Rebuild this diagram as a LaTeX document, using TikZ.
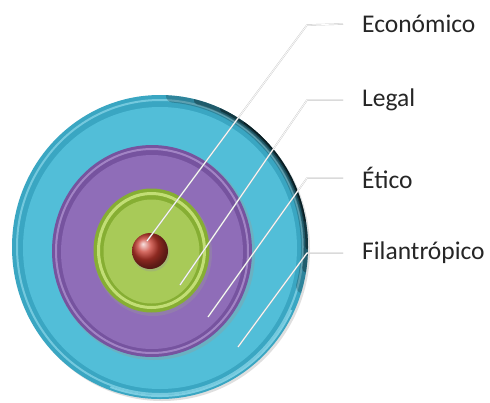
\documentclass[tikz,border=0pt]{standalone}
\usepackage{fontspec}
\setmainfont{Carlito}
\usetikzlibrary{shadings}
\definecolor{cyanbase}{HTML}{3AA6C2}
\definecolor{cyanflat}{HTML}{52BED8}
\definecolor{cyanhi}{HTML}{8ED8EA}
\definecolor{purpbase}{HTML}{76539F}
\definecolor{purpflat}{HTML}{8F6DB8}
\definecolor{purphi}{HTML}{B59AD6}
\definecolor{greenbase}{HTML}{86AE33}
\definecolor{greenflat}{HTML}{A8CA58}
\definecolor{greenhi}{HTML}{D2EA86}
\definecolor{ballred}{HTML}{C83A2E}
\definecolor{txt}{HTML}{262626}
\tikzset{
  lbl/.style={anchor=west, inner sep=0pt, font=\fontsize{25.5}{30}\selectfont, text=txt},
  leader/.style={draw=black!22, line width=0.4pt, double=white, double distance=0.7pt, line join=round},
  darkrim/.style={draw=black, line cap=round},
}
\begin{document}
\begin{tikzpicture}[x=1pt,y=-1pt]
\useasboundingbox (0,0) rectangle (490,402);
\fill[white] (0,0) rectangle (490,402);
% outer cyan disc
\fill[black!50, opacity=0.25] (162,249) ellipse [x radius=148pt, y radius=152pt];
\fill[cyanbase] (160,247) ellipse [x radius=148pt, y radius=152pt];
\fill[cyanflat] (160,248) ellipse [x radius=137pt, y radius=141pt];
\draw[cyanhi, line width=2pt, opacity=0.7] (160,247) ellipse [x radius=143pt, y radius=147pt];
% dark rim at upper right
\begin{scope}
  \clip (160,247) ellipse [x radius=148pt, y radius=152pt];
  \draw[darkrim, line width=14pt, opacity=0.2] (160,247) ++(-15:148pt and 152pt) arc [start angle=-15, end angle=85, x radius=148pt, y radius=152pt];
  \draw[darkrim, line width=9pt, opacity=0.3] (160,247) ++(-8:148pt and 152pt) arc [start angle=-8, end angle=75, x radius=148pt, y radius=152pt];
  \draw[darkrim, line width=5pt, opacity=0.4] (160,247) ++(0:148pt and 152pt) arc [start angle=0, end angle=65, x radius=148pt, y radius=152pt];
  \draw[darkrim, line width=2.5pt, opacity=0.5] (160,247) ++(10:148pt and 152pt) arc [start angle=10, end angle=55, x radius=148pt, y radius=152pt];
  \draw[cyanhi, line width=2pt, opacity=0.8] (160,247) ++(-25:145pt and 149pt) arc [start angle=-25, end angle=-110, x radius=145pt, y radius=149pt];
\end{scope}
% purple
\fill[black!40, opacity=0.35] (154,253) ellipse [x radius=101pt, y radius=107pt];
\fill[purpbase] (152,251) ellipse [x radius=100pt, y radius=106pt];
\fill[purpflat] (152,252) ellipse [x radius=91pt, y radius=97pt];
\draw[purphi, line width=2pt, opacity=0.7] (152,251) ellipse [x radius=96pt, y radius=102pt];
% green
\fill[black!40, opacity=0.35] (153,253) ellipse [x radius=59pt, y radius=63pt];
\fill[greenbase] (151.5,250.5) ellipse [x radius=58pt, y radius=62pt];
\fill[greenflat] (151.5,251.5) ellipse [x radius=48pt, y radius=52pt];
\draw[greenhi, line width=3pt, opacity=0.8] (151.5,250.5) ellipse [x radius=53pt, y radius=57pt];
% red ball
\fill[black!40, opacity=0.35] (151,253) circle [radius=18.5pt];
\shade[ball color=ballred] (150,251) circle [radius=18pt];
% labels
\node[lbl] (eco) at (362,24) {Económico};
\node[lbl] (leg) at (362,100) {Legal};
\node[lbl] (eti) at (362,178) {Ético};
\node[lbl] (fil) at (362,253) {Filantrópico};
\coordinate (e1) at (307,25);  \coordinate (e2) at (147,241);
\coordinate (l1) at (307,100); \coordinate (l2) at (180,285);
\coordinate (t1) at (307,178); \coordinate (t2) at (208,317);
\coordinate (f1) at (307,253); \coordinate (f2) at (238,347);
\draw[leader] ([xshift=-19pt]eco.west) -- (e1) -- (e2);
\draw[leader] ([xshift=-19pt]leg.west) -- (l1) -- (l2);
\draw[leader] ([xshift=-19pt]eti.west) -- (t1) -- (t2);
\draw[leader] ([xshift=-19pt]fil.west) -- (f1) -- (f2);
\end{tikzpicture}
\end{document}
